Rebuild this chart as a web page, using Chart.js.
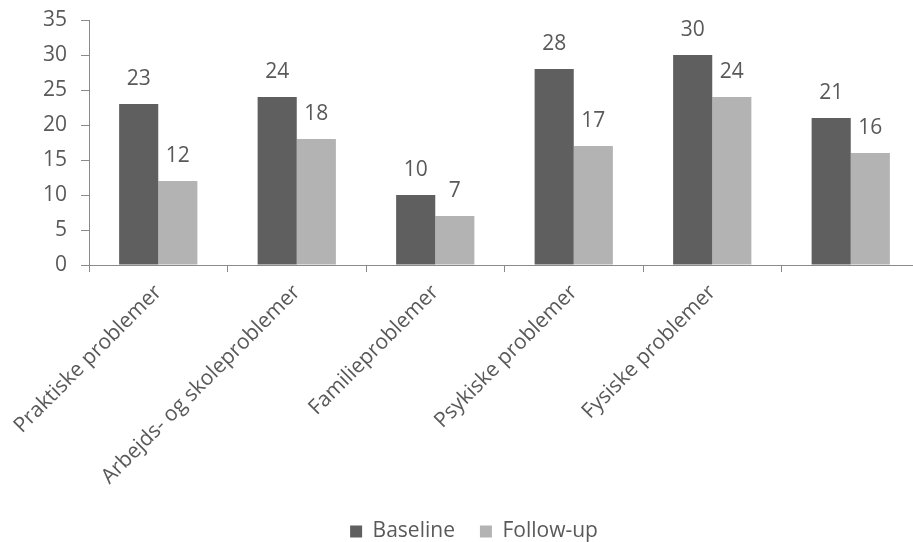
<!DOCTYPE html>
<html>
<head>
<meta charset="utf-8">
<script src="https://cdn.jsdelivr.net/npm/chart.js@4/dist/chart.umd.min.js"></script>
<style>
  html, body { margin: 0; padding: 0; background: #fff; overflow: hidden; }
  #wrap { width: 920px; height: 542px; }
</style>
</head>
<body>
<div id="wrap"><canvas id="c" width="920" height="542"></canvas></div>
<script>
// Problem areas, counts at baseline and at follow-up
const categories = ['Praktiske problemer', 'Arbejds- og skoleproblemer', 'Familieproblemer', 'Psykiske problemer', 'Fysiske problemer', ''];
const baseline = [23, 24, 10, 28, 30, 21];
const followUp = [12, 18, 7, 17, 24, 16];
const yTicks = [0, 5, 10, 15, 20, 25, 30, 35];

const TEXT = '#595959';
const AXIS = '#8a8a8a';
const FONT = "'Open Sans', 'DejaVu Sans', sans-serif";
const SIZE = 21;

// Value labels drawn above each bar
const valueLabels = {
  id: 'valueLabels',
  afterDatasetsDraw(chart) {
    const ctx = chart.ctx;
    ctx.save();
    ctx.font = SIZE + 'px ' + FONT;
    ctx.fillStyle = TEXT;
    ctx.textAlign = 'center';
    ctx.textBaseline = 'alphabetic';
    chart.data.datasets.forEach((ds, i) => {
      chart.getDatasetMeta(i).data.forEach((bar, j) => {
        ctx.fillText(String(ds.data[j]), bar.x, bar.y - 19);
      });
    });
    ctx.restore();
  }
};

// Nudge the legend row a little to the right
const legendShift = {
  id: 'legendShift',
  afterLayout(chart) {
    if (chart.legend) {
      chart.legend.left += 14;
      chart.legend.right += 14;
    }
  }
};

new Chart(document.getElementById('c'), {
  type: 'bar',
  data: {
    labels: categories,
    datasets: [
      { label: 'Baseline', data: baseline, backgroundColor: '#5f5f5f' },
      { label: 'Follow-up', data: followUp, backgroundColor: '#b3b3b3' }
    ]
  },
  options: {
    responsive: false,
    animation: false,
    devicePixelRatio: 1,
    categoryPercentage: 0.565,
    barPercentage: 1.0,
    layout: { padding: { top: 20, right: 0, bottom: 0, left: 0 } },
    plugins: {
      tooltip: { enabled: false },
      legend: {
        position: 'bottom',
        maxHeight: 46,
        labels: {
          color: TEXT,
          font: { family: FONT, size: SIZE },
          boxWidth: 12,
          boxHeight: 12,
          padding: 25
        }
      }
    },
    scales: {
      x: {
        grid: { display: true, drawOnChartArea: false, drawTicks: true, tickLength: 7, color: AXIS, offset: true },
        border: { display: true, color: AXIS, width: 1 },
        ticks: {
          color: TEXT,
          font: { family: FONT, size: SIZE },
          minRotation: 45,
          maxRotation: 45,
          autoSkip: false,
          padding: 8
        },
        afterFit(scale) { scale.height = 231; }
      },
      y: {
        min: 0,
        max: 35,
        afterBuildTicks(scale) { scale.ticks = yTicks.map(v => ({ value: v })); },
        grid: { display: true, drawOnChartArea: false, drawTicks: true, tickLength: 8, color: AXIS },
        border: { display: true, color: AXIS, width: 1 },
        ticks: {
          color: TEXT,
          font: { family: FONT, size: SIZE },
          padding: 14
        },
        afterFit(scale) {
          scale.width = 89;
          scale.paddingTop = 0;
          scale.paddingBottom = 0;
        }
      }
    }
  },
  plugins: [valueLabels, legendShift]
});
</script>
</body>
</html>
